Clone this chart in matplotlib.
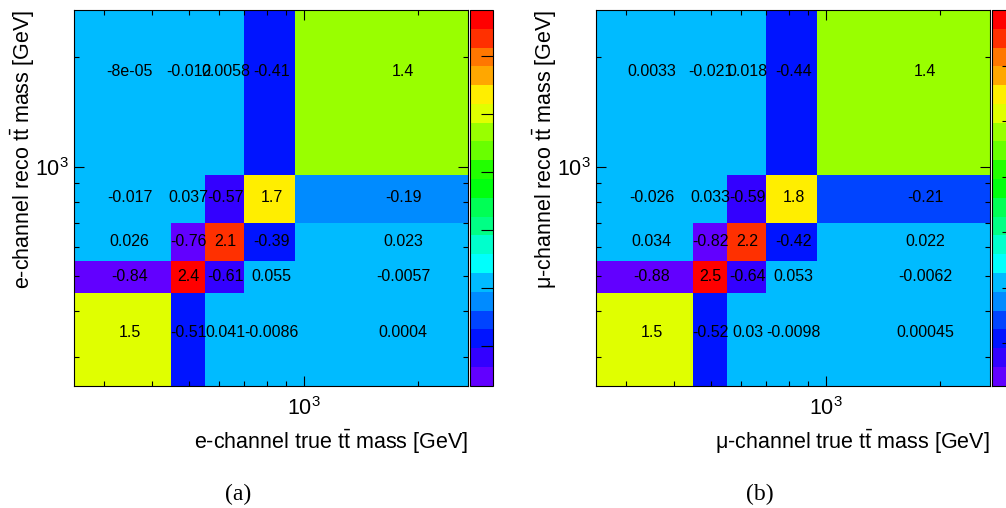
import numpy as np
import matplotlib
matplotlib.use("Agg")
import matplotlib.pyplot as plt
from matplotlib.colors import ListedColormap, BoundaryNorm
from matplotlib.ticker import LogLocator, NullFormatter, FixedLocator

plt.rcParams['font.family'] = ['Liberation Sans', 'DejaVu Sans']
plt.rcParams['mathtext.fontset'] = 'custom'
plt.rcParams['mathtext.rm'] = 'Liberation Sans'
plt.rcParams['mathtext.it'] = 'Liberation Sans:italic'
plt.rcParams['mathtext.bf'] = 'Liberation Sans:bold'

# bin edges (GeV), same for true and reco axes
mass_edges = [250, 450, 550, 700, 950, 2700]

# rows: reco bins (bottom -> top), columns: true bins (left -> right)
e_channel = [
    [1.5, -0.51, 0.041, -0.0086, 0.0004],
    [-0.84, 2.4, -0.61, 0.055, -0.0057],
    [0.026, -0.76, 2.1, -0.39, 0.023],
    [-0.017, 0.037, -0.57, 1.7, -0.19],
    [-8e-05, -0.012, 0.0058, -0.41, 1.4],
]
mu_channel = [
    [1.5, -0.52, 0.03, -0.0098, 0.00045],
    [-0.88, 2.5, -0.64, 0.053, -0.0062],
    [0.034, -0.82, 2.2, -0.42, 0.022],
    [-0.026, 0.033, -0.59, 1.8, -0.21],
    [0.0033, -0.021, 0.018, -0.44, 1.4],
]

palette = ['#6200ff', '#3300ff', '#0014ff', '#0044ff', '#008bff',
           '#00bbff', '#00fffc', '#00ffcc', '#00ff85', '#00ff55',
           '#00ff0e', '#22ff00', '#69ff00', '#99ff00', '#e0ff00',
           '#ffee00', '#ffa700', '#ff7700', '#ff3000', '#ff0000']
cbar_ticks = [-0.5, 0, 0.5, 1, 1.5, 2]

W, H = 1006, 508
fig = plt.figure(figsize=(W / 100, H / 100), dpi=100)


def px(x0, y0, x1, y1):
    return [x0 / W, 1 - y1 / H, (x1 - x0) / W, (y1 - y0) / H]


def panel(data, ax_box, cb_box, xlabel, ylabel, xlab_pos, ylab_pos, cap, cap_pos):
    Z = np.array(data)
    zmin, zmax = Z.min(), Z.max()
    cmap = ListedColormap(palette)
    cmap.set_over(palette[-1])
    cmap.set_under(palette[0])
    norm = BoundaryNorm(np.linspace(zmin, zmax, len(palette) + 1), len(palette))
    ax = fig.add_axes(px(*ax_box))
    m = ax.pcolormesh(mass_edges, mass_edges, Z, cmap=cmap, norm=norm)
    ax.set_xscale('log')
    ax.set_yscale('log')
    ax.set_xlim(mass_edges[0], mass_edges[-1])
    ax.set_ylim(mass_edges[0], mass_edges[-1])
    for a in (ax.xaxis, ax.yaxis):
        a.set_major_locator(LogLocator(base=10))
        a.set_minor_locator(LogLocator(base=10, subs=np.arange(2, 10)))
        a.set_minor_formatter(NullFormatter())
    ax.tick_params(which='both', direction='in', top=True, right=True,
                   width=0.8, labelsize=15.5)
    ax.tick_params(which='major', length=7.2)
    ax.tick_params(which='minor', length=3.6)
    ax.tick_params(axis='x', pad=8)
    ax.tick_params(axis='y', pad=4)
    for s in ax.spines.values():
        s.set_linewidth(0.8)
    for i in range(len(mass_edges) - 1):
        for j in range(len(mass_edges) - 1):
            xc = 0.5 * (mass_edges[j] + mass_edges[j + 1])
            yc = 0.5 * (mass_edges[i] + mass_edges[i + 1])
            ax.text(xc, yc, '{:.2g}'.format(Z[i, j]), ha='center', va='center',
                    fontsize=11.5, color='black')
    cax = fig.add_axes(px(*cb_box))
    cb = fig.colorbar(m, cax=cax)
    cb.set_ticks(cbar_ticks)
    cax.yaxis.set_minor_locator(FixedLocator([]))
    cax.tick_params(direction='in', length=8.6, width=0.8, labelright=False,
                    right=True, left=False)
    cb.outline.set_linewidth(0.8)
    fig.text(xlab_pos[0] / W, 1 - xlab_pos[1] / H, xlabel, ha='right', va='center',
             fontsize=15.5)
    fig.text(ylab_pos[0] / W, 1 - ylab_pos[1] / H, ylabel, ha='center', va='top',
             rotation=90, fontsize=15.5)
    fig.text(cap_pos[0] / W, 1 - cap_pos[1] / H, cap, ha='center', va='center',
             fontsize=17, family='Liberation Serif')


tt = r'$\mathrm{t\bar{t}}$'
panel(e_channel, (74, 10, 468, 385.7), (470, 10, 492.5, 385.7),
      'e-channel true ' + tt + ' mass [GeV]', 'e-channel reco ' + tt + ' mass [GeV]',
      (468, 442), (23, 10), '(a)', (238, 494))
panel(mu_channel, (596, 10, 990, 385.7), (991.7, 10, 1014.2, 385.7),
      'μ-channel true ' + tt + ' mass [GeV]', 'μ-channel reco ' + tt + ' mass [GeV]',
      (990, 442), (545, 10), '(b)', (760, 494))

fig.savefig('out.png', dpi=100)
